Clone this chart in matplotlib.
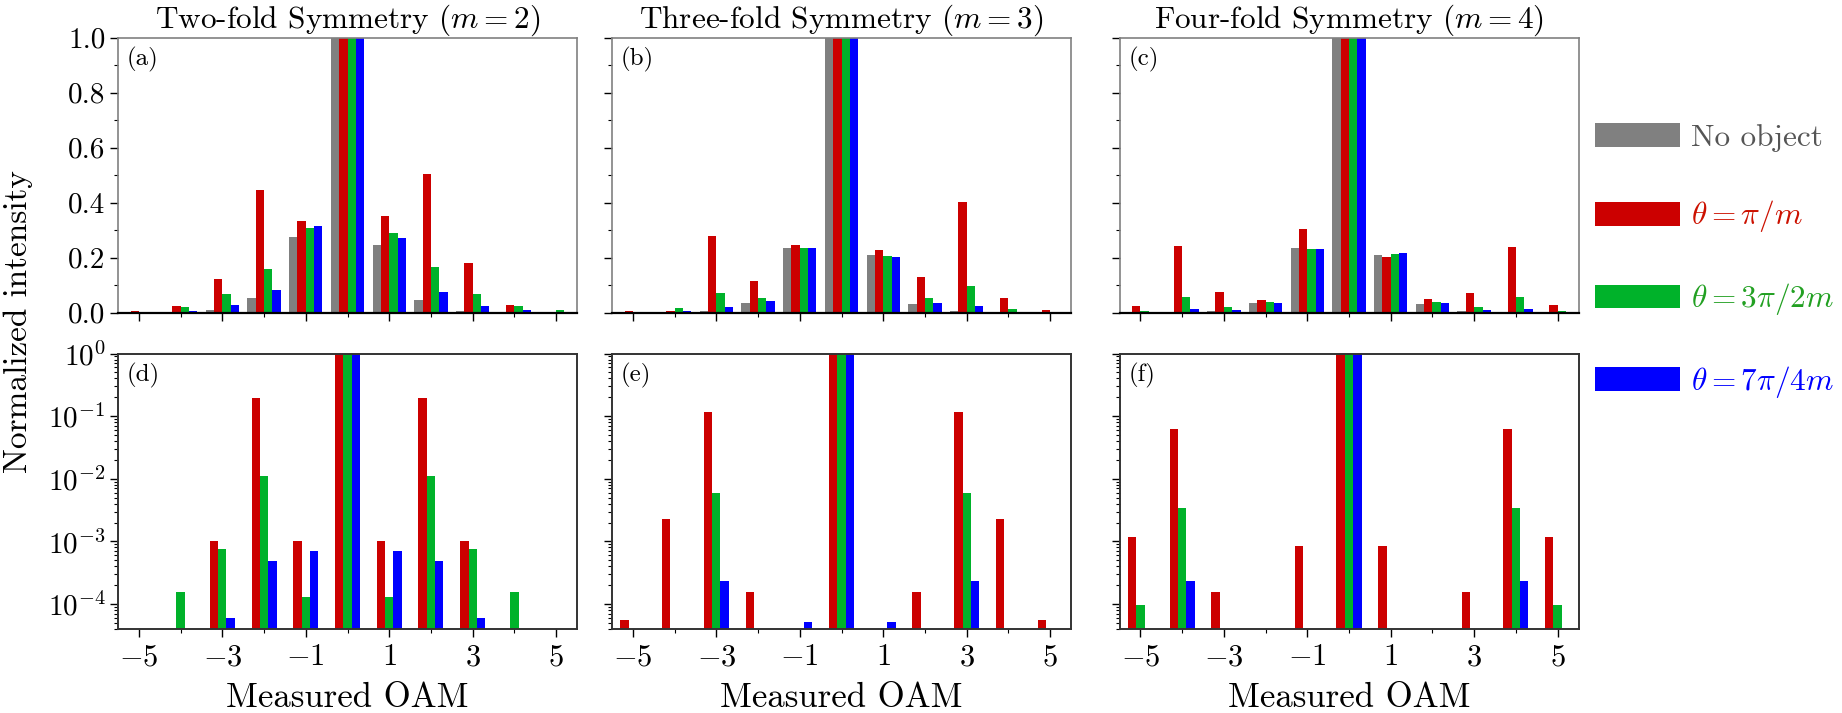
import numpy as np
import matplotlib
matplotlib.use('Agg')
import matplotlib.pyplot as plt
from matplotlib.patches import Patch
from matplotlib.ticker import MultipleLocator, FixedLocator, LogLocator, NullFormatter

plt.rcParams['font.family'] = 'serif'
plt.rcParams['font.serif'] = ['cmr10']
plt.rcParams['mathtext.fontset'] = 'cm'
plt.rcParams['axes.formatter.use_mathtext'] = True

oam = np.arange(-5, 6)

# (a)-(c): measured spectra, linear scale
a_none = [0.0, 0.0, 0.010, 0.052, 0.275, 1.0, 0.248, 0.047, 0.006, 0.0, 0.0]
a_pi = [0.005, 0.024, 0.122, 0.445, 0.333, 1.0, 0.350, 0.505, 0.179, 0.028, 0.004]
a_3pi = [0.004, 0.022, 0.067, 0.159, 0.308, 1.0, 0.290, 0.165, 0.068, 0.025, 0.010]
a_7pi = [0.001, 0.008, 0.028, 0.082, 0.314, 1.0, 0.272, 0.075, 0.024, 0.010, 0.004]

b_none = [0.0, 0.0, 0.005, 0.036, 0.236, 1.0, 0.210, 0.032, 0.005, 0.0, 0.0]
b_pi = [0.008, 0.005, 0.278, 0.114, 0.245, 1.0, 0.228, 0.130, 0.401, 0.055, 0.010]
b_3pi = [0.001, 0.016, 0.070, 0.055, 0.235, 1.0, 0.208, 0.053, 0.098, 0.013, 0.001]
b_7pi = [0.001, 0.006, 0.019, 0.041, 0.235, 1.0, 0.204, 0.036, 0.024, 0.004, 0.001]

c_none = [0.0, 0.0, 0.006, 0.036, 0.236, 1.0, 0.210, 0.033, 0.006, 0.0, 0.0]
c_pi = [0.024, 0.241, 0.075, 0.046, 0.304, 1.0, 0.202, 0.050, 0.073, 0.240, 0.027]
c_3pi = [0.005, 0.057, 0.022, 0.039, 0.230, 1.0, 0.213, 0.039, 0.022, 0.056, 0.006]
c_7pi = [0.002, 0.013, 0.010, 0.035, 0.232, 1.0, 0.217, 0.035, 0.010, 0.013, 0.001]

# (d)-(f): simulated spectra, log scale
d_pi = [0, 0, 1.0e-3, 0.194, 1.0e-3, 1.0, 1.0e-3, 0.194, 1.0e-3, 0, 0]
d_3pi = [0, 1.55e-4, 7.45e-4, 0.011, 1.29e-4, 1.0, 1.29e-4, 0.011, 7.45e-4, 1.55e-4, 0]
d_7pi = [0, 0, 6.1e-5, 4.85e-4, 7.1e-4, 1.0, 7.1e-4, 4.85e-4, 6.1e-5, 0, 0]

e_pi = [5.55e-5, 2.27e-3, 0.116, 1.55e-4, 0, 1.0, 0, 1.55e-4, 0.116, 2.27e-3, 5.55e-5]
e_3pi = [0, 0, 5.9e-3, 0, 0, 1.0, 0, 0, 5.9e-3, 0, 0]
e_7pi = [0, 0, 2.33e-4, 0, 5.16e-5, 1.0, 5.16e-5, 0, 2.33e-4, 0, 0]

f_pi = [1.17e-3, 0.063, 1.58e-4, 0, 8.4e-4, 1.0, 8.4e-4, 0, 1.58e-4, 0.063, 1.17e-3]
f_3pi = [9.5e-5, 3.41e-3, 0, 0, 0, 1.0, 0, 0, 0, 3.41e-3, 9.5e-5]
f_7pi = [0, 2.31e-4, 0, 0, 0, 1.0, 0, 0, 0, 2.31e-4, 0]

titles = ['Two-fold Symmetry ($m=2$)', 'Three-fold Symmetry ($m=3$)',
          'Four-fold Symmetry ($m=4$)']
labels = ['No object', r'$\theta=\pi/m$', r'$\theta=3\pi/2m$', r'$\theta=7\pi/4m$']
colors = ['#808080', '#cc0000', '#00b22a', '#0000ff']
text_colors = ['#555555', '#cc1100', '#22a022', '#0000ff']

W, H = 1842, 713
fig = plt.figure(figsize=(W / 100, H / 100), dpi=100)

lefts = [118, 612, 1119.5]
pw = 459
top_row = (37.7, 312.7)
bot_row = (353.5, 629)


def make_ax(x0, row):
    y0, y1 = row
    return fig.add_axes([x0 / W, 1 - y1 / H, pw / W, (y1 - y0) / H])


def style_x(ax, show_labels):
    ax.set_xlim(-5.5, 5.5)
    ax.xaxis.set_major_locator(FixedLocator([-5, -3, -1, 1, 3, 5]))
    ax.xaxis.set_minor_locator(FixedLocator([-4, -2, 0, 2, 4]))
    ax.tick_params(axis='both', which='major', direction='out', length=5.5,
                   width=1, labelsize=21)
    ax.tick_params(axis='x', which='major', labelsize=22, pad=5)
    ax.tick_params(axis='both', which='minor', direction='out', length=3, width=0.8)
    ax.tick_params(axis='both', top=False, right=False)
    if not show_labels:
        ax.tick_params(axis='x', labelbottom=False)


top_sets = [(a_none, a_pi, a_3pi, a_7pi), (b_none, b_pi, b_3pi, b_7pi),
            (c_none, c_pi, c_3pi, c_7pi)]
bot_sets = [(d_pi, d_3pi, d_7pi), (e_pi, e_3pi, e_7pi), (f_pi, f_3pi, f_7pi)]
top_tags = ['(a)', '(b)', '(c)']
bot_tags = ['(d)', '(e)', '(f)']

for i in range(3):
    # linear panels
    ax = make_ax(lefts[i], top_row)
    for k, vals in enumerate(top_sets[i]):
        ax.bar(oam + (k - 1.5) * 0.2, vals, width=0.2, color=colors[k], linewidth=0)
    ax.set_ylim(0, 1)
    ax.yaxis.set_major_locator(MultipleLocator(0.2))
    ax.yaxis.set_minor_locator(MultipleLocator(0.1))
    style_x(ax, False)
    ax.yaxis.set_major_formatter(plt.FuncFormatter(lambda v, p: '%.1f' % v))
    if i > 0:
        ax.tick_params(axis='y', labelleft=False)
    for s in ['left', 'top', 'right']:
        ax.spines[s].set_color('#808080')
        ax.spines[s].set_linewidth(1.2)
    ax.spines['bottom'].set_color('black')
    ax.spines['bottom'].set_linewidth(1.6)
    ax.set_title(titles[i], fontsize=22.5, pad=6)
    ax.text(0.019, 0.965, top_tags[i], transform=ax.transAxes, ha='left', va='top',
            fontsize=18)

    # log panels
    ax = make_ax(lefts[i], bot_row)
    for k, vals in enumerate(bot_sets[i]):
        ax.bar(oam + (k - 1) * 0.2, vals, width=0.2, color=colors[k + 1], linewidth=0)
    ax.set_yscale('log')
    ax.set_ylim(4e-5, 1)
    ax.yaxis.set_major_locator(LogLocator(base=10, numticks=10))
    ax.yaxis.set_minor_locator(LogLocator(base=10, subs=np.arange(2, 10), numticks=10))
    ax.yaxis.set_minor_formatter(NullFormatter())
    style_x(ax, True)
    if i > 0:
        ax.tick_params(axis='y', labelleft=False)
    for s in ax.spines.values():
        s.set_color('#333333')
        s.set_linewidth(1.4)
    ax.set_xlabel('Measured OAM', fontsize=25, labelpad=8)
    ax.text(0.019, 0.965, bot_tags[i], transform=ax.transAxes, ha='left', va='top',
            fontsize=18)

fig.text(18 / W, 1 - 322 / H, 'Normalized intensity', rotation=90, ha='center',
         va='center', fontsize=24)

handles = [Patch(facecolor=c, edgecolor='none') for c in colors]
leg = fig.legend(handles, labels, loc='center left',
                 bbox_to_anchor=(1595 / W, 1 - 261.5 / H), frameon=False,
                 fontsize=22.5, handlelength=2.72, handleheight=0.8,
                 handletextpad=0.35, labelspacing=1.5, borderpad=0,
                 borderaxespad=0)
for t, c in zip(leg.get_texts(), text_colors):
    t.set_color(c)

fig.savefig('out.png', dpi=100)
